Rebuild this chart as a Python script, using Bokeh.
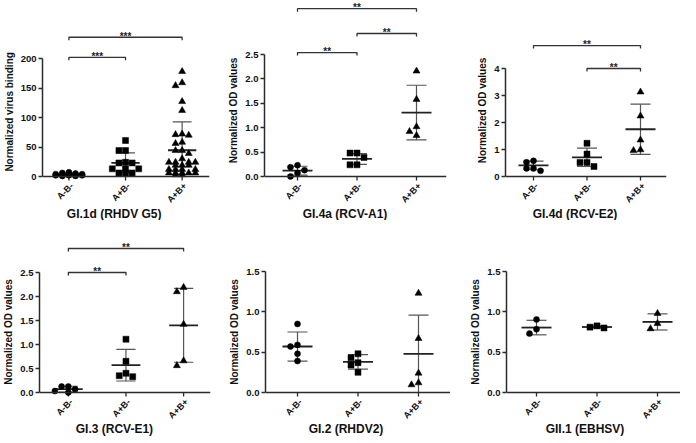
import numpy as np
from bokeh.plotting import figure
from bokeh.layouts import column, row
from bokeh.models import FixedTicker, Span, Range1d
from bokeh.embed import file_html
from bokeh.resources import INLINE
from bokeh.core.properties import value

FONT = "Liberation Sans"
AXC = "#2a2a2a"

categories = ["A-B-", "A+B-", "A+B+"]

# ---- GI.1d (RHDV G5) ----
gi1d_title = "GI.1d (RHDV G5)"
gi1d_ylabel = "Normalized  virus binding"
gi1d_neg = [1, 2, 2, 3, 3, 4, 4, 5, 7, 2, 3, 6, 1, 4]
gi1d_pos1 = [61, 44, 44, 23, 23, 24, 13, 13, 13, 6, 6, 6]
gi1d_pos2 = [178, 159, 154, 127, 112, 72, 71, 70, 58, 56, 44, 44, 39, 30,
             24, 24, 24, 24, 19, 19, 19, 12, 12, 12, 12, 6, 6, 6, 6, 6, 3, 3]
gi1d_mean = [3.4, 23, 44.5]
gi1d_sd = [2.5, 17, 48]
gi1d_ticks = [0, 50, 100, 150, 200]
gi1d_ticklabels = ["0", "50", "100", "150", "200"]
gi1d_brackets = [(0, 1, 202, "***"), (0, 2, 236, "***")]

# ---- GI.4a (RCV-A1) ----
gi4a_title = "GI.4a (RCV-A1)"
gi4a_neg = [0.23, 0.19, 0.13, 0.07, 0.0]
gi4a_pos1 = [0.48, 0.48, 0.39, 0.24, 0.24]
gi4a_pos2 = [2.16, 1.58, 1.02, 0.92, 0.84]
gi4a_mean = [0.12, 0.36, 1.31]
gi4a_sd = [0.09, 0.11, 0.56]
gi4a_ticks = [0, 0.5, 1.0, 1.5, 2.0, 2.5]
gi4a_ticklabels = ["0.0", "0.5", "1.0", "1.5", "2.0", "2.5"]
gi4a_brackets = [(0, 1, 2.54, "**"), (1, 2, 2.93, "**"), (0, 2, 3.44, "**")]

# ---- GI.4d (RCV-E2) ----
gi4d_title = "GI.4d (RCV-E2)"
gi4d_neg = [0.58, 0.53, 0.30, 0.30, 0.21]
gi4d_pos1 = [1.23, 0.83, 0.52, 0.52, 0.37]
gi4d_pos2 = [3.13, 2.24, 1.35, 0.99, 0.96]
gi4d_mean = [0.41, 0.71, 1.75]
gi4d_sd = [0.16, 0.34, 0.93]
gi4d_ticks = [0, 1, 2, 3, 4]
gi4d_ticklabels = ["0", "1", "2", "3", "4"]
gi4d_brackets = [(1, 2, 4.0, "**"), (0, 2, 4.85, "**")]

# ---- GI.3 (RCV-E1) ----
gi3_title = "GI.3 (RCV-E1)"
gi3_neg = [0.125, 0.125, 0.07, 0.03, 0.0]
gi3_pos1 = [1.11, 0.65, 0.40, 0.35, 0.33]
gi3_pos2 = [2.19, 2.10, 1.42, 0.66, 0.56]
gi3_mean = [0.07, 0.57, 1.40]
gi3_sd = [0.06, 0.33, 0.77]
gi3_ticks = [0, 0.5, 1.0, 1.5, 2.0, 2.5]
gi3_ticklabels = ["0.0", "0.5", "1.0", "1.5", "2.0", "2.5"]
gi3_brackets = [(0, 1, 2.5, "**"), (0, 2, 3.0, "**")]

# ---- GI.2 (RHDV2) ----
gi2_title = "GI.2 (RHDV2)"
gi2_neg = [0.85, 0.59, 0.57, 0.48, 0.39]
gi2_pos1 = [0.48, 0.43, 0.37, 0.34, 0.25]
gi2_pos2 = [1.23, 0.67, 0.24, 0.12, 0.095]
gi2_mean = [0.57, 0.38, 0.48]
gi2_sd = [0.18, 0.09, 0.48]
gi2_ticks = [0, 0.5, 1.0, 1.5]
gi2_ticklabels = ["0.0", "0.5", "1.0", "1.5"]
gi2_brackets = []

# ---- GII.1 (EBHSV) ----
gii1_title = "GII.1 (EBHSV)"
gii1_neg = [0.905, 0.785, 0.73]
gii1_pos1 = [0.826, 0.81, 0.80]
gii1_pos2 = [0.98, 0.855, 0.79]
gii1_mean = [0.805, 0.812, 0.875]
gii1_sd = [0.09, 0.013, 0.10]
gii1_ticks = [0, 0.5, 1.0, 1.5]
gii1_ticklabels = ["0.0", "0.5", "1.0", "1.5"]
gii1_brackets = []

od_ylabel = "Normalized OD values"


def beeswarm(vals, yppu, step_px, msize, maxslot=2):
    placed = []
    offs = [0] * len(vals)
    order = sorted(range(len(vals)), key=lambda i: -vals[i])
    cands = [0]
    for k in range(1, maxslot + 1):
        cands += [-k, k]
    for i in order:
        y = vals[i] * yppu
        best, best_d = 0, -1.0
        for c in cands:
            dmin = 1e9
            for (s, yy) in placed:
                dx = (c - s) * step_px
                dy = y - yy
                dmin = min(dmin, (dx * dx + dy * dy) ** 0.5)
            if dmin >= msize:
                best = c
                break
            if dmin > best_d:
                best, best_d = c, dmin
        placed.append((best, y))
        offs[i] = best
    return offs


def make_panel(w, h, axis_x, c1, c3, xend, y0, ymax_px, title_dy, ticks,
               ticklabels, ylabel, title, groups, means, sds, brackets):
    ymax = ticks[-1]
    xppu = (c3 - c1) / 2.0
    x_start = 1 - (c1 - axis_x) / xppu
    x_end = 3 + (xend - c3) / xppu
    yppu = (y0 - ymax_px) / ymax
    y_start = -(h - y0) / yppu
    y_end = ymax + ymax_px / yppu
    p = figure(width=w, height=h, x_range=Range1d(x_start, x_end),
               y_range=Range1d(y_start, y_end), output_backend="svg",
               toolbar_location=None, min_border_left=axis_x,
               min_border_right=w - xend, min_border_top=0,
               min_border_bottom=0)
    p.outline_line_color = None
    p.xgrid.visible = False
    p.ygrid.visible = False
    p.xaxis.visible = False
    p.background_fill_color = "white"

    yax = p.yaxis[0]
    yax.ticker = FixedTicker(ticks=ticks)
    yax.major_label_overrides = {t: l for t, l in zip(ticks, ticklabels)}
    yax.bounds = (0, ymax)
    yax.axis_line_width = 1.5
    yax.axis_line_color = AXC
    yax.major_tick_line_width = 1.3
    yax.major_tick_line_color = AXC
    yax.major_tick_out = 4
    yax.major_tick_in = 0
    yax.minor_tick_line_color = None
    yax.major_label_text_font = FONT
    yax.major_label_text_font_style = "bold"
    yax.major_label_text_font_size = "9.5px"
    yax.major_label_text_color = "#111111"
    yax.major_label_standoff = 2
    yax.axis_label = ylabel
    yax.axis_label_text_font = FONT
    yax.axis_label_text_font_style = "bold"
    yax.axis_label_text_font_size = "10px"
    yax.axis_label_text_color = "#111111"
    yax.axis_label_standoff = 3

    # x axis line, ticks, category labels, title
    p.add_layout(Span(location=0, dimension="width", line_color=AXC,
                      line_width=1.5))
    xs = [1, 2, 3]
    p.segment(x0=xs, y0=[0] * 3, x1=xs, y1=[-4 / yppu] * 3,
              line_color=AXC, line_width=1.3)
    p.text(xs, [0] * 3, text=categories, angle=np.pi / 4,
           text_align="right", text_baseline="middle", x_offset=3, y_offset=8,
           text_font=value(FONT), text_font_style="bold",
           text_font_size="9px", text_color="#111111")
    p.text([2 - 12 / xppu], [0], text=[title], text_align="center",
           text_baseline="middle", y_offset=title_dy, text_font=value(FONT),
           text_font_style="bold", text_font_size="12px", text_color="#111111")

    # mean and SD bars
    mean_half = 15 / xppu
    cap_half = 10 / xppu
    lo = [max(m - s, 0) for m, s in zip(means, sds)]
    hi = [m + s for m, s in zip(means, sds)]
    p.segment(x0=xs, y0=lo, x1=xs, y1=hi, line_color="#555555", line_width=1.2)
    p.segment(x0=[x - cap_half for x in xs], y0=hi,
              x1=[x + cap_half for x in xs], y1=hi,
              line_color="#555555", line_width=1.2)
    lo_x = [x for x, m, s in zip(xs, means, sds) if m - s >= 0]
    lo_y = [m - s for m, s in zip(means, sds) if m - s >= 0]
    p.segment(x0=[x - cap_half for x in lo_x], y0=lo_y,
              x1=[x + cap_half for x in lo_x], y1=lo_y,
              line_color="#555555", line_width=1.2)
    p.segment(x0=[x - mean_half for x in xs], y0=means,
              x1=[x + mean_half for x in xs], y1=means,
              line_color="#222222", line_width=1.8)

    # points
    markers = ["circle", "square", "triangle"]
    sizes = [6, 6, 7]
    step_px = 7.0
    for k, vals in enumerate(groups):
        offs = beeswarm(vals, yppu, step_px, 6.0)
        xv = [k + 1 + o * step_px / xppu for o in offs]
        p.scatter(xv, vals, marker=markers[k], size=sizes[k],
                  fill_color="black", line_color="black", line_width=0.5)

    # significance brackets
    drop = 3 / yppu
    for (i, j, hgt, lab) in brackets:
        p.line([i + 1, i + 1, j + 1, j + 1], [hgt - drop, hgt, hgt, hgt - drop],
               line_color="#333333", line_width=1.3)
        p.text([(i + j) / 2 + 1], [hgt], text=[lab], text_font=value(FONT),
               text_font_style="bold", text_font_size="10px",
               text_align="center", text_baseline="alphabetic",
               text_color="#222222", y_offset=-1)
    return p


W1, W2, W3 = 224, 226, 230
H1, H2 = 220, 223

p1 = make_panel(W1, H1, 32, 60, 180, 209, 176, 58, 37, gi1d_ticks,
                gi1d_ticklabels, gi1d_ylabel, gi1d_title,
                [gi1d_neg, gi1d_pos1, gi1d_pos2], gi1d_mean, gi1d_sd,
                gi1d_brackets)
p2 = make_panel(W2, H1, 40, 73, 192, 222, 176, 54, 37, gi4a_ticks,
                gi4a_ticklabels, od_ylabel, gi4a_title,
                [gi4a_neg, gi4a_pos1, gi4a_pos2], gi4a_mean, gi4a_sd,
                gi4a_brackets)
p3 = make_panel(W3, H1, 55, 83, 190, 216, 176, 68, 37, gi4d_ticks,
                gi4d_ticklabels, od_ylabel, gi4d_title,
                [gi4d_neg, gi4d_pos1, gi4d_pos2], gi4d_mean, gi4d_sd,
                gi4d_brackets)
p4 = make_panel(W1, H2, 32, 62, 182, 210, 172, 52, 36, gi3_ticks,
                gi3_ticklabels, od_ylabel, gi3_title,
                [gi3_neg, gi3_pos1, gi3_pos2], gi3_mean, gi3_sd, gi3_brackets)
p5 = make_panel(W2, H2, 41, 73, 194, 226, 172, 51, 36, gi2_ticks,
                gi2_ticklabels, od_ylabel, gi2_title,
                [gi2_neg, gi2_pos1, gi2_pos2], gi2_mean, gi2_sd, gi2_brackets)
p6 = make_panel(W3, H2, 56, 86, 207, 230, 172, 51, 36, gii1_ticks,
                gii1_ticklabels, od_ylabel, gii1_title,
                [gii1_neg, gii1_pos1, gii1_pos2], gii1_mean, gii1_sd,
                gii1_brackets)

layout = column(row(p1, p2, p3), row(p4, p5, p6))
open("out.html", "w").write(file_html(layout, INLINE))
